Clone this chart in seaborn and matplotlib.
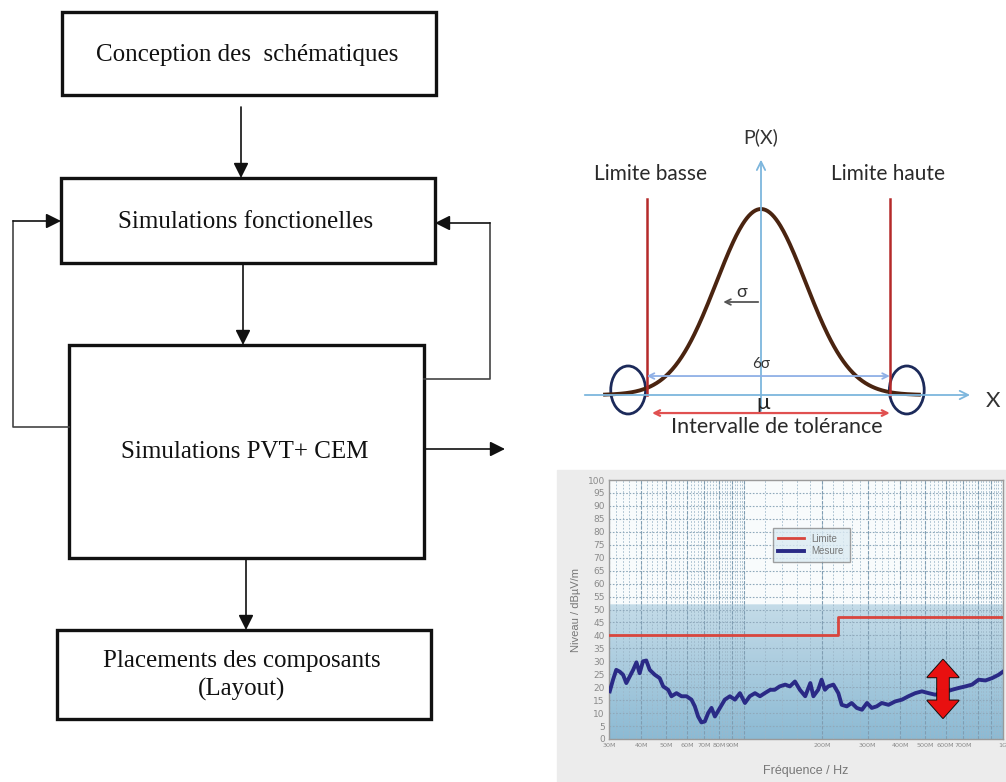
import numpy as np
import matplotlib
matplotlib.use("Agg")
import matplotlib.pyplot as plt
import seaborn as sns
from matplotlib.patches import Rectangle, Ellipse, FancyArrowPatch
from matplotlib.ticker import FixedLocator, NullFormatter

# --- flowchart steps (text only) ---
steps = ["Conception des  schématiques", "Simulations fonctionelles",
         "Simulations PVT+ CEM", "Placements des composants\n(Layout)"]

# --- tolerance diagram (in sigma units) ---
mu, sigma = 0.0, 1.0
lim_low, lim_high = -2.82, 3.18

# --- EMC scan: frequency (MHz) / level (dBuV/m) ---
freq_mhz = [30.2, 31.1, 32.0, 33.0, 34.0, 35.0, 36.1, 37.2, 38.3, 39.4, 40.6, 41.8,
            43.1, 45.1, 47.1, 48.6, 50.8, 52.3, 54.7, 57.2, 59.8, 62.5, 64.4, 66.3,
            68.3, 70.4, 72.5, 74.7, 77.0, 80.5, 84.1, 88.0, 92.0, 96.2, 100.6, 105,
            110, 115, 120, 126, 131, 137, 144, 150, 157, 164, 172, 180, 185, 193,
            199, 205, 211, 221, 231, 238, 249, 260, 272, 285, 298, 311, 325, 340,
            361, 383, 407, 431, 458, 486, 516, 547, 590, 635, 674, 715, 759, 805,
            855, 907, 962, 1000]
level_db = [18.4, 22.9, 26.7, 26.0, 24.8, 21.6, 24.2, 26.7, 29.6, 25.4, 30.0, 30.3,
            26.7, 24.8, 23.5, 20.3, 19.0, 16.5, 17.7, 16.5, 16.5, 15.2, 12.6, 8.7,
            6.4, 6.8, 10.0, 12.0, 8.7, 12.0, 15.2, 16.5, 15.2, 17.7, 13.9, 16.5,
            17.7, 16.5, 17.7, 19.0, 19.0, 20.3, 21.0, 20.3, 22.2, 19.0, 16.5, 21.6,
            16.5, 19.0, 22.9, 19.0, 20.3, 21.0, 17.7, 13.2, 12.6, 13.9, 12.0, 11.3,
            13.9, 12.0, 12.6, 13.9, 13.2, 14.5, 15.2, 16.5, 17.7, 18.4, 17.7, 17.1,
            18.0, 19.0, 19.7, 20.3, 21.0, 22.9, 22.6, 23.5, 24.8, 26.0]
limit_freq = [30, 230, 230, 1000]
limit_db = [40, 40, 47, 47]
xtick_vals = [30, 40, 50, 60, 70, 80, 90, 200, 300, 400, 500, 600, 700, 1000]
xtick_labels = ["30M", "40M", "50M", "60M", "70M", "80M", "90M", "200M", "300M",
                "400M", "500M", "600M", "700M", "1G"]

W, H = 1006, 782
fig = plt.figure(figsize=(W / 100, H / 100), dpi=100)
fig.patch.set_facecolor("white")

# overlay in pixel coordinates
ax0 = fig.add_axes([0, 0, 1, 1])
ax0.set_xlim(0, W)
ax0.set_ylim(H, 0)
ax0.axis("off")

serif = "Liberation Serif"
boxes = [(62, 12, 436, 95), (61, 178, 435, 263), (69, 345, 424, 558), (57, 630, 431, 719)]
for (x0, y0, x1, y1), label in zip(boxes, steps):
    ax0.add_patch(Rectangle((x0, y0), x1 - x0, y1 - y0, fill=False, ec="#111111", lw=2.4))
    ax0.text((x0 + x1) / 2 - 2, (y0 + y1) / 2 + 1, label, ha="center", va="center",
             family=serif, fontsize=18, color="#111111", linespacing=1.3)

arr = dict(arrowstyle="-|>,head_length=0.9,head_width=0.45", color="#111111", lw=1.2,
           shrinkA=0, shrinkB=0)
for x, ya, yb in [(241, 107, 178), (243, 263, 345), (246, 558, 630)]:
    ax0.annotate("", xy=(x, yb), xytext=(x, ya), arrowprops=arr)
ax0.annotate("", xy=(505, 449), xytext=(424, 449), arrowprops=arr)
# feedback loops
ax0.plot([69, 13, 13], [427, 427, 221], color="#444444", lw=1.2)
ax0.annotate("", xy=(61, 221), xytext=(13, 221), arrowprops=arr)
ax0.plot([424, 490, 490], [379, 379, 223], color="#444444", lw=1.2)
ax0.annotate("", xy=(435, 223), xytext=(490, 223), arrowprops=arr)

# EMC panel background
ax0.add_patch(Rectangle((557, 470), W - 557, H - 470, color="#ececec", zorder=0))

# --- tolerance diagram ---
sans = "Lato"
px_l, px_r, px_t, px_b = 575, 1006, 130, 440
ax1 = fig.add_axes([px_l / W, 1 - px_b / H, (px_r - px_l) / W, (px_b - px_t) / H])
cx, sx, by, sy = 761, 40.5, 395, 186
ax1.set_xlim((px_l - cx) / sx, (px_r - cx) / sx)
ax1.set_ylim((by - px_b) / sy, (by - px_t) / sy)
ax1.axis("off")

blue = "#7db6dd"
ax1.annotate("", xy=(5.23, 0), xytext=(-4.42, 0),
             arrowprops=dict(arrowstyle="->,head_length=0.6,head_width=0.3", color=blue, lw=1.3))
ax1.annotate("", xy=(0, 1.28), xytext=(0, -0.1),
             arrowprops=dict(arrowstyle="->,head_length=0.6,head_width=0.3", color=blue, lw=1.3))
ax1.text(0, 1.385, "P(X)", ha="center", va="center", family=sans, fontsize=14, color="#333333")
ax1.text(5.73, -0.03, "X", ha="center", va="center", family=sans, fontsize=16, color="#333333")

xs = np.linspace(-3.85, 3.9, 300)
pdf = np.exp(-0.5 * ((xs - mu) / (1.1 * sigma)) ** 2)
sns.lineplot(x=xs, y=pdf, ax=ax1, color="#4a2410", lw=2.8, sort=False, estimator=None)

for xl in (lim_low, lim_high):
    ax1.plot([xl, xl], [0.0, 1.054], color="#b52a2a", lw=1.8)
ax1.text(-2.74, 1.19, "Limite basse", ha="center", va="center", family=sans,
         fontsize=15, color="#2a2a2a")
ax1.text(3.14, 1.19, "Limite haute", ha="center", va="center", family=sans,
         fontsize=15, color="#2a2a2a")

ax1.annotate("", xy=(-1.0, 0.5), xytext=(0, 0.5),
             arrowprops=dict(arrowstyle="->", color="#555555", lw=1.3))
ax1.text(-0.47, 0.555, "σ", ha="center", va="center", family=sans, fontsize=13, color="#333333")

ax1.annotate("", xy=(lim_high, 0.102), xytext=(lim_low, 0.102),
             arrowprops=dict(arrowstyle="<->", color="#8fb0e6", lw=1.3, shrinkA=0, shrinkB=0))
ax1.text(0, 0.165, "6σ", ha="center", va="center", family=sans, fontsize=11, color="#333333")
ax1.text(0.05, -0.045, "μ", ha="center", va="center", family=sans, fontsize=16, color="#222222")

ax1.annotate("", xy=(lim_high, -0.097), xytext=(-2.69, -0.097),
             arrowprops=dict(arrowstyle="<->", color="#e05050", lw=1.6, shrinkA=0, shrinkB=0))
ax1.text(0.4, -0.172, "Intervalle de tolérance", ha="center", va="center", family=sans,
         fontsize=15.5, color="#2a2a2a")

for ex in (-3.28, 3.6):
    ax1.add_patch(Ellipse((ex, 0.027), 0.86, 0.258, fill=False, ec="#1c2a5a", lw=2.0))

# --- EMC chart ---
el, er, et, eb = 609, 1003, 480, 739
ax2 = fig.add_axes([el / W, 1 - eb / H, (er - el) / W, (eb - et) / H])
ax2.set_xscale("log")
ax2.set_xlim(30, 1000)
ax2.set_ylim(0, 100)

# background: white above ~52 dB, blue gradient below
n = 400
lv = np.linspace(100, 0, n)
top = np.array([0.975, 0.985, 0.99])
hi = np.array([0.77, 0.86, 0.91])
lo = np.array([0.55, 0.73, 0.83])
cols = np.zeros((n, 1, 3))
for i, v in enumerate(lv):
    if v > 52:
        cols[i, 0] = top
    else:
        t = v / 52
        cols[i, 0] = lo + (hi - lo) * t
ax2.imshow(cols, extent=[0, 1, 0, 1], transform=ax2.transAxes, aspect="auto", zorder=0)

minor_v = list(range(30, 100, 2)) + list(range(100, 1001, 20))
major_v = list(range(30, 101, 10)) + list(range(200, 1001, 100))
for v in minor_v:
    ax2.axvline(v, color="#9db7c9", lw=0.6, ls=(0, (2, 2)), zorder=1)
for v in major_v:
    ax2.axvline(v, color="#7f9db2", lw=0.8, ls=(0, (3, 1.5)), zorder=1)
for v in range(5, 100, 5):
    ax2.axhline(v, color="#8fa9bb", lw=0.8, ls=(0, (1.5, 1.5)), zorder=1)

sns.lineplot(x=limit_freq, y=limit_db, ax=ax2, color="#d8453d", lw=2.0, sort=False,
             estimator=None, label="Limite", zorder=3)
sns.lineplot(x=freq_mhz, y=level_db, ax=ax2, color="#2a2a86", lw=2.8, sort=False,
             estimator=None, label="Mesure", zorder=3)

ax2.xaxis.set_major_locator(FixedLocator(xtick_vals))
ax2.set_xticklabels(xtick_labels)
ax2.xaxis.set_minor_formatter(NullFormatter())
ax2.set_yticks(range(0, 101, 5))
ax2.tick_params(which="both", length=0, labelsize=6.5, labelcolor="#8a8a8a", pad=3)
ax2.tick_params(axis="x", labelsize=4.6)
for lab in ax2.get_xticklabels() + ax2.get_yticklabels():
    lab.set_family("Liberation Sans Narrow")
ax2.set_xlabel("Fréquence / Hz", family="Liberation Sans", fontsize=9, color="#777777",
               labelpad=12)
ax2.set_ylabel("Niveau / dBµV/m", family="Liberation Sans", fontsize=8, color="#777777",
               labelpad=5)
for s in ax2.spines.values():
    s.set_color("#9a9a9a")
    s.set_linewidth(1.0)

leg = ax2.legend(loc="center", bbox_to_anchor=(0.513, 0.749), fontsize=7, frameon=True,
                 handlelength=2.6, borderpad=0.6, labelspacing=0.3, fancybox=False)
leg.get_frame().set_edgecolor("#8a8a8a")
leg.get_frame().set_facecolor("#dcebf3")
for t in leg.get_texts():
    t.set_color("#777777")
    t.set_family("Liberation Sans")

# big red double arrow on the scan
xa = 943
fa = 10 ** (np.log10(30) + (xa - el) / (er - el) * np.log10(1000 / 30))
ymid = 19.3
style = "simple,head_width=1.6,head_length=0.9,tail_width=0.6"
for tip in (30.6, 8.1):
    ax2.add_patch(FancyArrowPatch((fa, ymid), (fa, tip), arrowstyle=style,
                                  mutation_scale=14, fc="#e81010", ec="#111111", lw=1.4,
                                  shrinkA=0, shrinkB=0, zorder=5))
for tip in (30.6, 8.1):
    ax2.add_patch(FancyArrowPatch((fa, ymid), (fa, tip), arrowstyle=style,
                                  mutation_scale=14, fc="#e81010", ec="none", lw=0,
                                  shrinkA=0, shrinkB=0, zorder=6))

fig.savefig("out.png", dpi=100)
